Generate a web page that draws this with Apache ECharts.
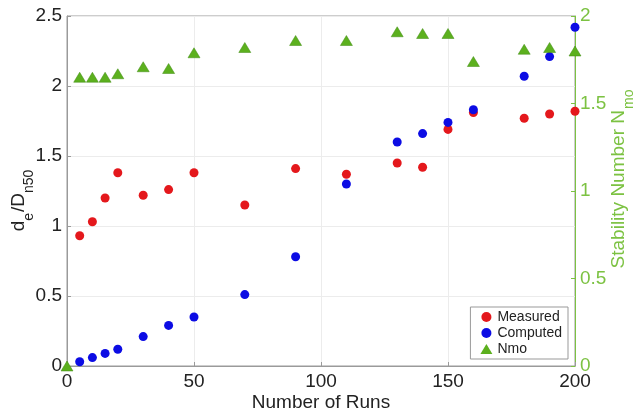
<!DOCTYPE html>
<html>
<head>
<meta charset="utf-8">
<script src="https://cdn.jsdelivr.net/npm/echarts@6/dist/echarts.min.js"></script>
<style>html,body{margin:0;padding:0;background:#fff;}#c{width:637px;height:416px;}</style>
</head>
<body>
<div id="c"></div>
<script>
var runs = [5, 10, 15, 20, 30, 40, 50, 70, 90, 110, 130, 140, 150, 160, 180, 190, 200];
var measured = [0.93, 1.03, 1.20, 1.38, 1.22, 1.26, 1.38, 1.15, 1.41, 1.37, 1.45, 1.42, 1.69, 1.81, 1.77, 1.80, 1.82];
var computed = [0.03, 0.06, 0.09, 0.12, 0.21, 0.29, 0.35, 0.51, 0.78, 1.30, 1.60, 1.66, 1.74, 1.83, 2.07, 2.21, 2.42];
var nmoRuns = [0, 5, 10, 15, 20, 30, 40, 50, 70, 90, 110, 130, 140, 150, 160, 180, 190, 200];
var nmo = [0, 1.65, 1.65, 1.65, 1.67, 1.71, 1.70, 1.79, 1.82, 1.86, 1.86, 1.91, 1.90, 1.90, 1.74, 1.81, 1.82, 1.80];
var xTicks = [0, 50, 100, 150, 200];

function pairs(xs, ys) { return xs.map(function (x, i) { return [x, ys[i]]; }); }

var chart = echarts.init(document.getElementById('c'));
var font = 'Liberation Sans, Arial, Helvetica, sans-serif';
var green = '#7cc242';
chart.setOption({
  animation: false,
  backgroundColor: '#fff',
  textStyle: { fontFamily: font },
  grid: { left: 67, right: 62, top: 16, bottom: 50, containLabel: false, outerBoundsMode: 'none',
          show: true, borderColor: '#9a9a9a', borderWidth: 1 },
  xAxis: {
    type: 'value', min: xTicks[0], max: xTicks[xTicks.length - 1], interval: 50,
    name: 'Number of Runs', nameLocation: 'middle', nameGap: 27, nameMoveOverlap: false,
    nameTextStyle: { fontSize: 19, color: '#222', fontFamily: font },
    axisLine: { show: true, lineStyle: { color: '#9a9a9a' } },
    axisTick: { show: true, inside: true, length: 4, lineStyle: { color: '#9a9a9a' } },
    axisLabel: { fontSize: 19, color: '#222', margin: 6, fontFamily: font },
    splitLine: { show: true, lineStyle: { color: '#ececec' } }
  },
  yAxis: [{
    type: 'value', min: 0, max: 2.5, interval: 0.5, position: 'left',
    name: '{n|d}{s|e}{n|/D}{s|n50}', nameLocation: 'middle', nameGap: 39, nameMoveOverlap: false,
    nameTextStyle: { color: '#222', padding: [0, 18, 0, 0], rich: {
      n: { fontSize: 19, color: '#222', fontFamily: font },
      s: { fontSize: 14, color: '#222', fontFamily: font, verticalAlign: 'bottom', padding: [0, 1, -8, 0] }
    } },
    axisLine: { show: true, lineStyle: { color: '#9a9a9a' } },
    axisTick: { show: true, inside: true, length: 4, lineStyle: { color: '#9a9a9a' } },
    axisLabel: { fontSize: 19, color: '#222', margin: 5, fontFamily: font },
    splitLine: { show: true, lineStyle: { color: '#ececec' } }
  }, {
    type: 'value', min: 0, max: 2, interval: 0.5, position: 'right',
    name: '{n|Stability Number N}{s|mo}', nameLocation: 'middle', nameGap: 34, nameMoveOverlap: false,
    nameTextStyle: { color: green, padding: [0, 0, 0, 24], rich: {
      n: { fontSize: 19, color: green, fontFamily: font },
      s: { fontSize: 14, color: green, fontFamily: font, verticalAlign: 'bottom', padding: [0, 0, -8, 1] }
    } },
    axisLine: { show: true, lineStyle: { color: green } },
    axisTick: { show: true, inside: true, length: 4, lineStyle: { color: green } },
    axisLabel: { fontSize: 19, color: green, margin: 5, fontFamily: font },
    splitLine: { show: false }
  }],
  legend: {
    orient: 'vertical', right: 69, bottom: 57,
    backgroundColor: '#fff', borderColor: '#999', borderWidth: 1,
    padding: [3, 6, 3, 10], itemGap: 2, itemWidth: 12, itemHeight: 10,
    textStyle: { fontSize: 14, color: '#222', fontFamily: font },
    data: [
      { name: 'Measured', icon: 'circle' },
      { name: 'Computed', icon: 'circle' },
      { name: 'Nmo', icon: 'triangle', itemStyle: { borderWidth: 0 } }
    ]
  },
  series: [{
    name: 'Measured', type: 'scatter', yAxisIndex: 0, symbol: 'circle', symbolSize: 9,
    itemStyle: { color: '#e4181c', opacity: 1 }, data: pairs(runs, measured)
  }, {
    name: 'Computed', type: 'scatter', yAxisIndex: 0, symbol: 'circle', symbolSize: 9,
    itemStyle: { color: '#0c0ce4', opacity: 1 }, data: pairs(runs, computed)
  }, {
    name: 'Nmo', type: 'scatter', yAxisIndex: 1, symbol: 'triangle', symbolSize: [12, 10],
    itemStyle: { color: '#5cb01e', borderColor: '#3f8a10', borderWidth: 0.5, opacity: 1 }, data: pairs(nmoRuns, nmo)
  }]
});
</script>
</body>
</html>
